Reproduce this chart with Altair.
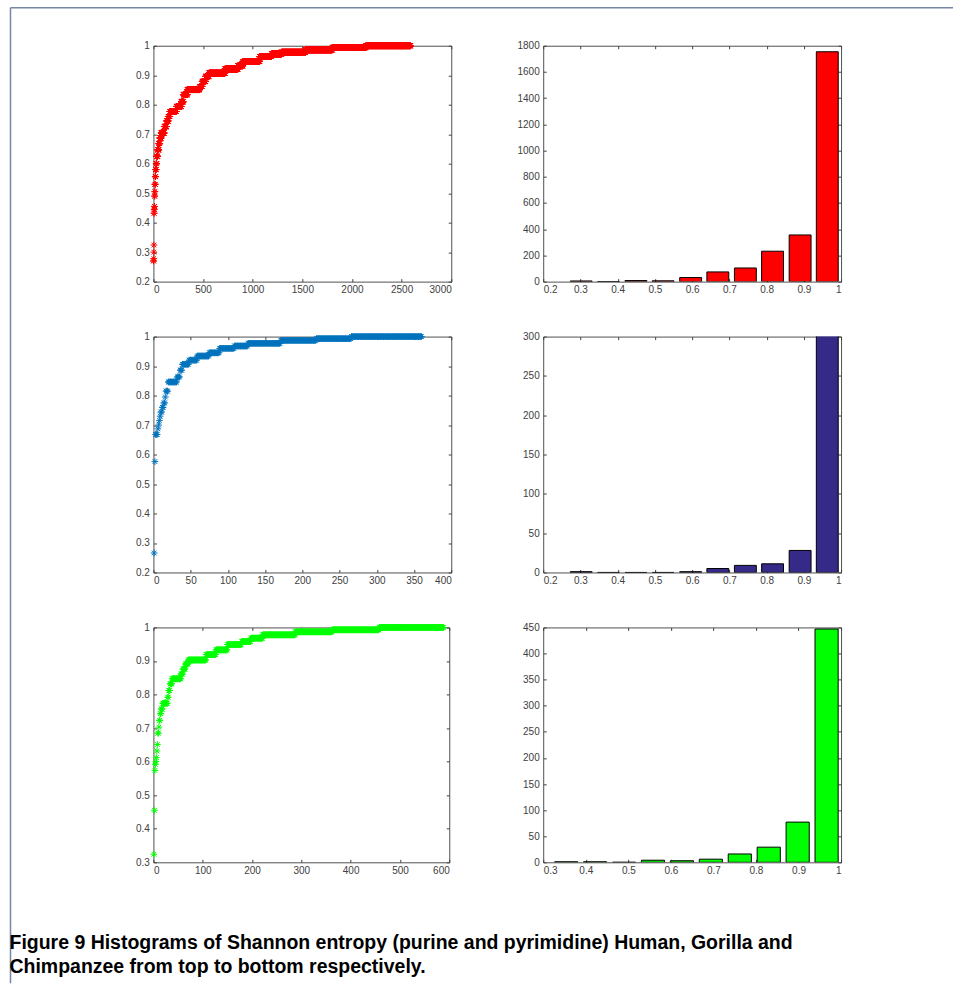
import altair as alt
import pandas as pd

# ---------------- data ----------------
# Sorted Shannon entropy values (scatter): level value and last index of that level
human_levels = [0.270, 0.278, 0.300, 0.324, 0.432, 0.445, 0.455, 0.490, 0.505, 0.530,
                0.556, 0.580, 0.600, 0.625, 0.647, 0.668, 0.687, 0.704, 0.726, 0.745,
                0.760, 0.777, 0.794, 0.810, 0.834, 0.851, 0.862, 0.879, 0.896, 0.907,
                0.921, 0.932, 0.947, 0.963, 0.972, 0.978, 0.986, 0.994, 1.000]
human_ends = [2, 3, 4, 5, 7, 9, 11, 13, 15, 18,
              22, 27, 33, 42, 53, 64, 77, 108, 133, 148,
              165, 230, 280, 300, 340, 465, 490, 525, 560, 720,
              850, 900, 1070, 1190, 1290, 1530, 1800, 2140, 2590]

gorilla_levels = [0.266, 0.576, 0.668, 0.687, 0.700, 0.715, 0.730, 0.744, 0.760, 0.775,
                  0.795, 0.815, 0.846, 0.863, 0.886, 0.906, 0.920, 0.934, 0.945, 0.960,
                  0.968, 0.977, 0.987, 0.993, 1.000]
gorilla_ends = [1, 2, 5, 6, 7, 8, 9, 11, 13, 15,
                16, 19, 31, 35, 38, 47, 58, 74, 88, 108,
                126, 170, 218, 265, 360]

chimp_levels = [0.324, 0.455, 0.574, 0.592, 0.600, 0.612, 0.632, 0.651, 0.685, 0.703,
                0.723, 0.743, 0.757, 0.774, 0.792, 0.812, 0.832, 0.847, 0.861, 0.876,
                0.891, 0.903, 0.919, 0.933, 0.949, 0.958, 0.968, 0.978, 0.987, 0.993, 1.000]
chimp_ends = [1, 2, 3, 4, 5, 6, 7, 8, 10, 11,
              13, 15, 18, 28, 30, 33, 37, 55, 59, 64,
              70, 106, 126, 149, 178, 197, 221, 287, 362, 457, 588]

# Histograms: bin centres and counts
human_centers = [0.302, 0.375, 0.449, 0.522, 0.596, 0.669, 0.743, 0.816, 0.890, 0.963]
human_counts = [5, 0, 8, 6, 31, 74, 104, 232, 356, 1754]
gorilla_centers = [0.302, 0.375, 0.449, 0.522, 0.596, 0.669, 0.743, 0.816, 0.890, 0.963]
gorilla_counts = [1, 0, 0, 0, 1, 5, 9, 11, 28, 303]
chimp_centers = [0.354, 0.422, 0.490, 0.558, 0.626, 0.694, 0.762, 0.830, 0.898, 0.966]
chimp_counts = [1, 1, 0, 4, 3, 6, 16, 29, 77, 447]

caption_1 = "Figure 9  Histograms of Shannon entropy (purine and pyrimidine) Human, Gorilla and"
caption_2 = "Chimpanzee from top to bottom respectively."

# ---------------- styling ----------------
AST = "M-1,0L1,0M0,-1L0,1M-0.7,-0.7L0.7,0.7M-0.7,0.7L0.7,-0.7"
AX = dict(grid=False, domain=False, tickColor="#404040", tickWidth=1,
          tickSize=alt.ExprRef(expr="-3"), labelFont="Liberation Sans",
          labelFontSize=10, labelColor="#404040", format="~r")


def expand(levels, ends):
    idx, val = [], []
    start = 1
    for lv, e in zip(levels, ends):
        for i in range(start, e + 1):
            idx.append(i)
            val.append(lv)
        start = e + 1
    return pd.DataFrame({"idx": idx, "val": val})


def hist_df(centers, counts, half):
    return pd.DataFrame({"x0": [c - half for c in centers],
                         "x1": [c + half for c in centers],
                         "n": counts, "base": [0] * len(counts)})


def frame_layer(xs, ys, xvals, yvals, xdom, ydom, xf, yf):
    d = pd.DataFrame({xf: [xdom[0]], yf: [ydom[0]]})
    return alt.Chart(d).mark_point(opacity=0).encode(
        x=alt.X(f"{xf}:Q", scale=xs, title=None,
                axis=alt.Axis(orient="top", values=xvals, labels=False, **AX)),
        y=alt.Y(f"{yf}:Q", scale=ys, title=None,
                axis=alt.Axis(orient="right", values=yvals, labels=False, **AX)))


def scatter(df, color, xdom, xvals, ydom, yvals, w, h, extra=()):
    xs = alt.Scale(domain=xdom, nice=False, zero=False)
    ys = alt.Scale(domain=ydom, nice=False, zero=False)
    pts = alt.Chart(df).mark_point(shape=AST, filled=False, size=45, strokeWidth=1,
                                   color=color, opacity=1).encode(
        x=alt.X("idx:Q", scale=xs, title=None,
                axis=alt.Axis(orient="bottom", values=xvals, labelPadding=6, **AX)),
        y=alt.Y("val:Q", scale=ys, title=None,
                axis=alt.Axis(orient="left", values=yvals, labelPadding=7, **AX)))
    fr = frame_layer(xs, ys, xvals, yvals, xdom, ydom, "idx", "val")
    return alt.layer(pts, fr, *extra).resolve_axis(x="independent", y="independent").properties(
        width=w, height=h)


def histo(df, color, xdom, xvals, ydom, yvals, w, h):
    xs = alt.Scale(domain=xdom, nice=False, zero=False)
    ys = alt.Scale(domain=ydom, nice=False, zero=False)
    bars = alt.Chart(df).mark_rect(color=color, stroke="black", strokeWidth=1, clip=True).encode(
        x=alt.X("x0:Q", scale=xs, title=None,
                axis=alt.Axis(orient="bottom", values=xvals, labelPadding=6, **AX)),
        x2="x1:Q",
        y=alt.Y("n:Q", scale=ys, title=None,
                axis=alt.Axis(orient="left", values=yvals, labelPadding=7, **AX)),
        y2="base:Q")
    fr = frame_layer(xs, ys, xvals, yvals, xdom, ydom, "x0", "n")
    return alt.layer(bars, fr).resolve_axis(x="independent", y="independent").properties(
        width=w, height=h)


one = alt.Data(values=[{"k": 1}])
FRAME_COLOR = "#7786a6"
vline = alt.Chart(one).mark_rule(color=FRAME_COLOR, strokeWidth=1.5).encode(
    x=alt.value(-143), y=alt.value(-38), y2=alt.value(938))
hline = alt.Chart(one).mark_rule(color=FRAME_COLOR, strokeWidth=1.5).encode(
    x=alt.value(-143), x2=alt.value(800), y=alt.value(-38))
cap_font = "Liberation Sans"
cap1 = alt.Chart(one).mark_text(align="left", baseline="alphabetic", font=cap_font,
                                fontSize=19.5, fontWeight="bold", color="black").encode(
    x=alt.value(-144), y=alt.value(322), text=alt.value(caption_1))
cap2 = alt.Chart(one).mark_text(align="left", baseline="alphabetic", font=cap_font,
                                fontSize=19.5, fontWeight="bold", color="black").encode(
    x=alt.value(-144), y=alt.value(346), text=alt.value(caption_2))

sc_y = [0.2, 0.3, 0.4, 0.5, 0.6, 0.7, 0.8, 0.9, 1.0]
sc_y3 = [0.3, 0.4, 0.5, 0.6, 0.7, 0.8, 0.9, 1.0]
h_x = [0.2, 0.3, 0.4, 0.5, 0.6, 0.7, 0.8, 0.9, 1.0]
h_x3 = [0.3, 0.4, 0.5, 0.6, 0.7, 0.8, 0.9, 1.0]

s1 = scatter(expand(human_levels, human_ends), "#ff0000", [0, 3000],
             [0, 500, 1000, 1500, 2000, 2500, 3000], [0.2, 1.0], sc_y, 298, 236,
             extra=(vline, hline))
h1 = histo(hist_df(human_centers, human_counts, 0.0294), "#ff0000", [0.2, 1.0], h_x,
           [0, 1800], [0, 200, 400, 600, 800, 1000, 1200, 1400, 1600, 1800], 298, 236)

s2 = scatter(expand(gorilla_levels, gorilla_ends), "#0072bd", [0, 400],
             [0, 50, 100, 150, 200, 250, 300, 350, 400], [0.2, 1.0], sc_y, 298, 236)
h2 = histo(hist_df(gorilla_centers, gorilla_counts, 0.0294), "#352a87", [0.2, 1.0], h_x,
           [0, 300], [0, 50, 100, 150, 200, 250, 300], 298, 236)

s3 = scatter(expand(chimp_levels, chimp_ends), "#00ff00", [0, 600],
             [0, 100, 200, 300, 400, 500, 600], [0.3, 1.0], sc_y3, 296, 235,
             extra=(cap1, cap2))
h3 = histo(hist_df(chimp_centers, chimp_counts, 0.0272), "#00ff00", [0.3, 1.0], h_x3,
           [0, 450], [0, 50, 100, 150, 200, 250, 300, 350, 400, 450], 298, 235)

chart = alt.concat(s1, h1, s2, h2, s3, h3, columns=2,
                   spacing={"row": 55, "column": 92}, bounds="flush").properties(
    padding={"left": 8.5, "top": 5.5, "right": 0, "bottom": 0},
    background="white",
).configure_view(stroke="#505050", strokeWidth=1)

chart.save("out.html", embed_options={"renderer": "svg", "actions": False})
